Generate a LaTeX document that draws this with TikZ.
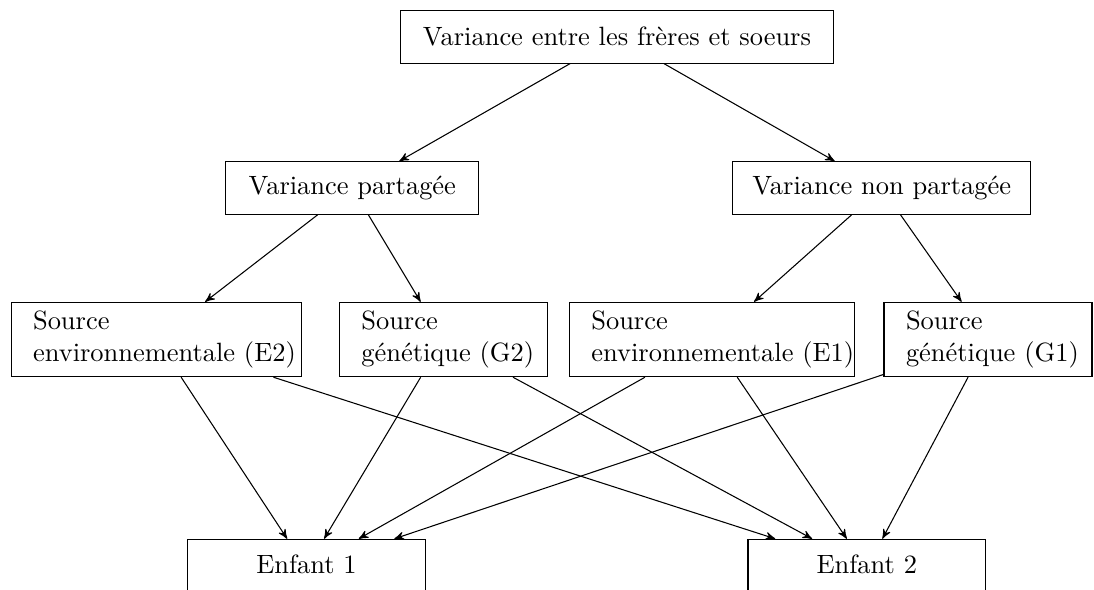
\documentclass[tikz,border=0pt]{standalone}
\usetikzlibrary{arrows}
% one unit = one pixel of the 1094 x 590 canvas
\newcommand{\pxu}{0.3781pt}
\tikzset{
  onebox/.style={draw, inner sep=0pt, minimum height=52.6*\pxu, align=center},
  % the deeper text depth lifts the label above the box centre
  kidbox/.style={draw, inner sep=0pt, minimum height=58*\pxu,
                 text height=7pt, text depth=3.4pt},
  srcbox/.style={draw, align=left, inner xsep=22*\pxu, inner ysep=0pt,
                 minimum height=74.4*\pxu},
  link/.style={-stealth', line width=0.4pt}
}
\begin{document}
\begin{tikzpicture}[x=0.3781pt, y=-0.3781pt]
  \useasboundingbox (0,0) rectangle (1094,590);

  % top level
  \node[onebox, minimum width=432.3*\pxu] (top) at (617,36.8)
    {Variance entre les frères et soeurs};

  % second level
  \node[onebox, minimum width=252.7*\pxu] (vp) at (352.3,188)
    {Variance partagée};
  \node[onebox, minimum width=298*\pxu] (vnp) at (881.7,188)
    {Variance non partagée};

  % sources
  \node[srcbox, text width={(290.7-44)*\pxu}] (e2) at (156.4,339.5)
    {Source\\\mbox{environnementale (E2)}};
  \node[srcbox, text width={(207.7-44)*\pxu}] (g2) at (443.2,339.5)
    {Source\\\mbox{génétique (G2)}};
  \node[srcbox, text width={(284.7-44)*\pxu}] (e1) at (711.7,339.5)
    {Source\\\mbox{environnementale (E1)}};
  \node[srcbox, text width={(208-44)*\pxu}] (g1) at (988,339.5)
    {Source\\\mbox{génétique (G1)}};

  % children (their lower edges run off the page)
  \node[kidbox, minimum width=238*\pxu] (c1) at (306.5,568.3) {Enfant 1};
  \node[kidbox, minimum width=237.6*\pxu] (c2) at (866.8,568.3) {Enfant 2};

  % connectors
  \draw[link] (top) -- (vp);
  \draw[link] (top) -- (vnp);
  \draw[link] (vp) -- (e2);
  \draw[link] (vp) -- (g2);
  \draw[link] (vnp) -- (e1);
  \draw[link] (vnp) -- (g1);
  \foreach \s in {e2,g2,e1,g1}{
    \draw[link] (\s) -- (c1);
    \draw[link] (\s) -- (c2);
  }
\end{tikzpicture}
\end{document}
